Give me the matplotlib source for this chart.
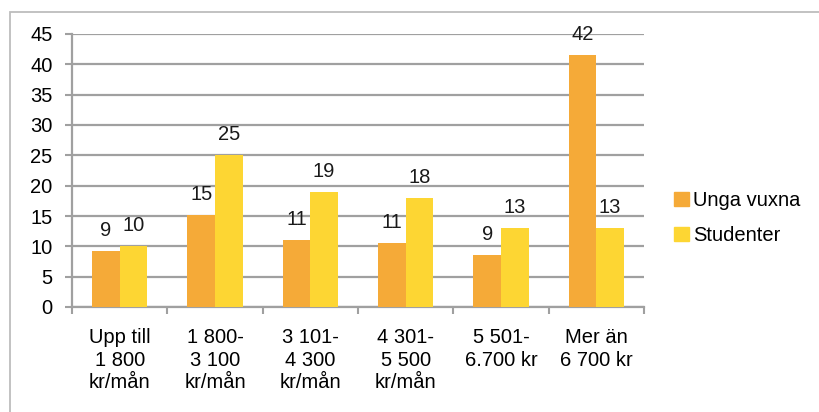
import matplotlib
matplotlib.use("Agg")
import matplotlib.pyplot as plt
from matplotlib.patches import Rectangle, Patch
import numpy as np

# income brackets and shares (%) per group
categories = ["Upp till\n1 800\nkr/mån", "1 800-\n3 100\nkr/mån", "3 101-\n4 300\nkr/mån",
              "4 301-\n5 500\nkr/mån", "5 501-\n6.700 kr", "Mer än\n6 700 kr"]
unga_vuxna = [9.2, 15.2, 11.0, 10.6, 8.6, 41.6]
studenter = [10, 25, 19, 18, 13, 13]
series_names = ["Unga vuxna", "Studenter"]
yticks = list(range(0, 50, 5))

ORANGE = "#F5AA38"
YELLOW = "#FDD633"
GRID = "#A0A0A0"
FS = 14.5

plt.rcParams["font.family"] = ["Liberation Sans", "DejaVu Sans"]

fig = plt.figure(figsize=(8.19, 4.12), dpi=100)
ax = fig.add_axes([72 / 819, 1 - 307 / 412, 572 / 819, 273 / 412])

# light frame around the whole chart
fig.patches.append(Rectangle((10 / 819, -0.05), 1.0, 1 - 12 / 412 + 0.05,
                             transform=fig.transFigure, fill=False,
                             edgecolor="#BDBDBD", linewidth=1.3))

x = np.arange(len(categories))
w = 0.29
b1 = ax.bar(x - w / 2, unga_vuxna, w, color=ORANGE, zorder=3)
b2 = ax.bar(x + w / 2, studenter, w, color=YELLOW, zorder=3)

for bars, vals in ((b1, unga_vuxna), (b2, studenter)):
    for rect, v in zip(bars, vals):
        ax.annotate(f"{v:.0f}", (rect.get_x() + rect.get_width() / 2, v),
                    xytext=(0, 8), textcoords="offset points",
                    ha="center", va="bottom", fontsize=FS, color="#1a1a1a")

ax.set_xlim(-0.5, len(categories) - 0.5)
ax.set_ylim(0, 45)
ax.set_yticks(yticks)
ax.yaxis.grid(True, color=GRID, linewidth=1.6, zorder=0)
ax.set_axisbelow(True)

ax.set_xticks(x)
ax.set_xticklabels(categories, fontsize=FS, linespacing=1.25)
ax.set_xticks(np.arange(len(categories) + 1) - 0.5, minor=True)
ax.tick_params(axis="x", which="major", length=0, pad=15)
ax.tick_params(axis="x", which="minor", length=5, color=GRID, width=1.5)
ax.tick_params(axis="y", length=5, color=GRID, width=1.5, labelsize=FS, pad=9)

for side in ("top", "right"):
    ax.spines[side].set_visible(False)
for side in ("left", "bottom"):
    ax.spines[side].set_color(GRID)
    ax.spines[side].set_linewidth(1.6)

handles = [Patch(color=ORANGE), Patch(color=YELLOW)]
fig.legend(handles, series_names, loc="center left",
           bbox_to_anchor=(656 / 819, 1 - 218 / 412), frameon=False,
           fontsize=FS, handlelength=0.75, handleheight=0.75,
           handletextpad=0.2, labelspacing=0.8)

fig.savefig("out.png", dpi=100)
